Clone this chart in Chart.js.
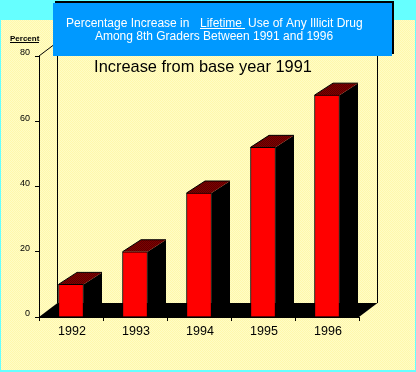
<!DOCTYPE html>
<html><head><meta charset="utf-8">
<script src="https://cdn.jsdelivr.net/npm/chart.js@4/dist/chart.umd.min.js"></script>
<style>
html,body{margin:0;padding:0;background:#66ffff;width:416px;height:372px;overflow:hidden}
#w{position:absolute;left:0;top:0;width:416px;height:372px}
</style></head><body>
<div id="w"><canvas id="c" width="416" height="372"></canvas></div>
<script>
const categories = ["1992","1993","1994","1995","1996"];
const increaseValues = [10,20,38,52,68];
const yTicks = [0,20,40,60,80];
const titleLines = ["Percentage Increase in","Lifetime","Use of Any Illicit Drug","Among 8th Graders Between 1991 and 1996"];
const chartTitle = "Increase from base year 1991";
const yAxisName = "Percent";

const DX = 18.5, DY = 12, FLOORDY = 14;

function ditherPattern(ctx, a, b){
  const p = document.createElement('canvas'); p.width = 2; p.height = 2;
  const g = p.getContext('2d');
  g.fillStyle = a; g.fillRect(0,0,2,2);
  g.fillStyle = b; g.fillRect(0,0,1,1); g.fillRect(1,1,1,1);
  return ctx.createPattern(p,'repeat');
}
function poly(ctx, pts, fill){
  ctx.beginPath(); pts.forEach((q,i)=> i?ctx.lineTo(q[0],q[1]):ctx.moveTo(q[0],q[1])); ctx.closePath();
  ctx.fillStyle = fill; ctx.fill();
}
const backdrop = {
  id:'backdrop',
  beforeDraw(ch){
    const c = ch.ctx;
    c.save();
    c.fillStyle = '#66ffff'; c.fillRect(0,0,416,372);
    c.fillStyle = ditherPattern(c,'#fffdc6','#fff7ac');
    c.fillRect(1,20,414,350);
    c.restore();
  },
  beforeDatasetsDraw(ch){
    const c = ch.ctx, a = ch.chartArea, y = ch.scales.y;
    const y0 = y.getPixelForValue(0), yT = y.getPixelForValue(80);
    c.save();
    c.strokeStyle = '#000'; c.lineWidth = 1;
    c.beginPath();
    c.moveTo(a.left,yT); c.lineTo(a.left+DX,yT-FLOORDY);
    c.moveTo(a.left+DX,yT-FLOORDY); c.lineTo(a.left+DX,y0-FLOORDY);
    c.moveTo(a.right+DX,yT-FLOORDY); c.lineTo(a.right+DX,y0-FLOORDY);
    c.stroke();
    poly(c,[[a.left,y0],[a.left+DX,y0-FLOORDY],[a.right+DX,y0-FLOORDY],[a.right,y0]],'#000');
    const top = ditherPattern(c,'#800000','#5a0000');
    ch.getDatasetMeta(0).data.forEach(b=>{
      const l=b.x-b.width/2, r=b.x+b.width/2, t=b.y;
      poly(c,[[r,t],[r+DX,t-DY],[r+DX,y0-DY],[r,y0]],'#000');
      poly(c,[[l,t],[l+DX,t-DY],[r+DX,t-DY],[r,t]],top);
      c.strokeStyle='#000'; c.beginPath(); c.moveTo(l,t); c.lineTo(l+DX,t-DY); c.lineTo(r+DX,t-DY); c.stroke();
    });
    c.restore();
  },
  afterDraw(ch){
    const c = ch.ctx;
    c.save();
    c.fillStyle='#000'; c.fillRect(55,1,339,53);
    c.fillStyle='#0099ff'; c.fillRect(53,3,339,53);
    c.fillStyle='#fff'; c.textBaseline='alphabetic'; c.textAlign='left';
    c.font='12px "Liberation Sans"';
    c.fillText(titleLines[0],66,27);
    c.fillText(titleLines[1],200,27);
    c.fillRect(200,28,45,1);
    c.fillText(titleLines[2],248,27);
    c.textAlign='center';
    c.fillText(titleLines[3],214,40);
    c.fillStyle='#000'; c.font='16.4px "Liberation Sans"';
    c.fillText(chartTitle,203,72);
    c.font='bold 8px "Liberation Sans"'; c.textAlign='left';
    c.fillText(yAxisName,10,40.5);
    c.fillRect(10,42,29,1);
    c.restore();
  }
};

new Chart(document.getElementById('c'),{
  type:'bar',
  data:{labels:categories,datasets:[{data:increaseValues,backgroundColor:'#ff0000',borderColor:'#000',borderWidth:1,barThickness:25}]},
  plugins:[backdrop],
  options:{
    responsive:false,animation:false,
    layout:{padding:{left:0,right:57,top:56,bottom:0}},
    plugins:{legend:{display:false},tooltip:{enabled:false},title:{display:false}},
    scales:{
      x:{afterFit(s){s.height=55;},
         grid:{display:true,drawOnChartArea:false,color:'#000',tickLength:4,tickColor:'#000'},
         border:{color:'#000',width:1},
         ticks:{color:'#000',font:{family:'"Liberation Sans"',size:12.5},padding:3,maxRotation:0,labelOffset:1}},
      y:{min:0,max:80,afterFit(s){s.width=39;},
         afterBuildTicks(s){s.ticks=yTicks.map(v=>({value:v}));},
         grid:{display:true,drawOnChartArea:false,color:'#000',tickLength:4,tickColor:'#000'},
         border:{color:'#000',width:1},
         ticks:{color:'#000',font:{family:'"Liberation Sans"',size:9},padding:5,labelOffset:-3}}
    }
  }
});
</script>
</body></html>
